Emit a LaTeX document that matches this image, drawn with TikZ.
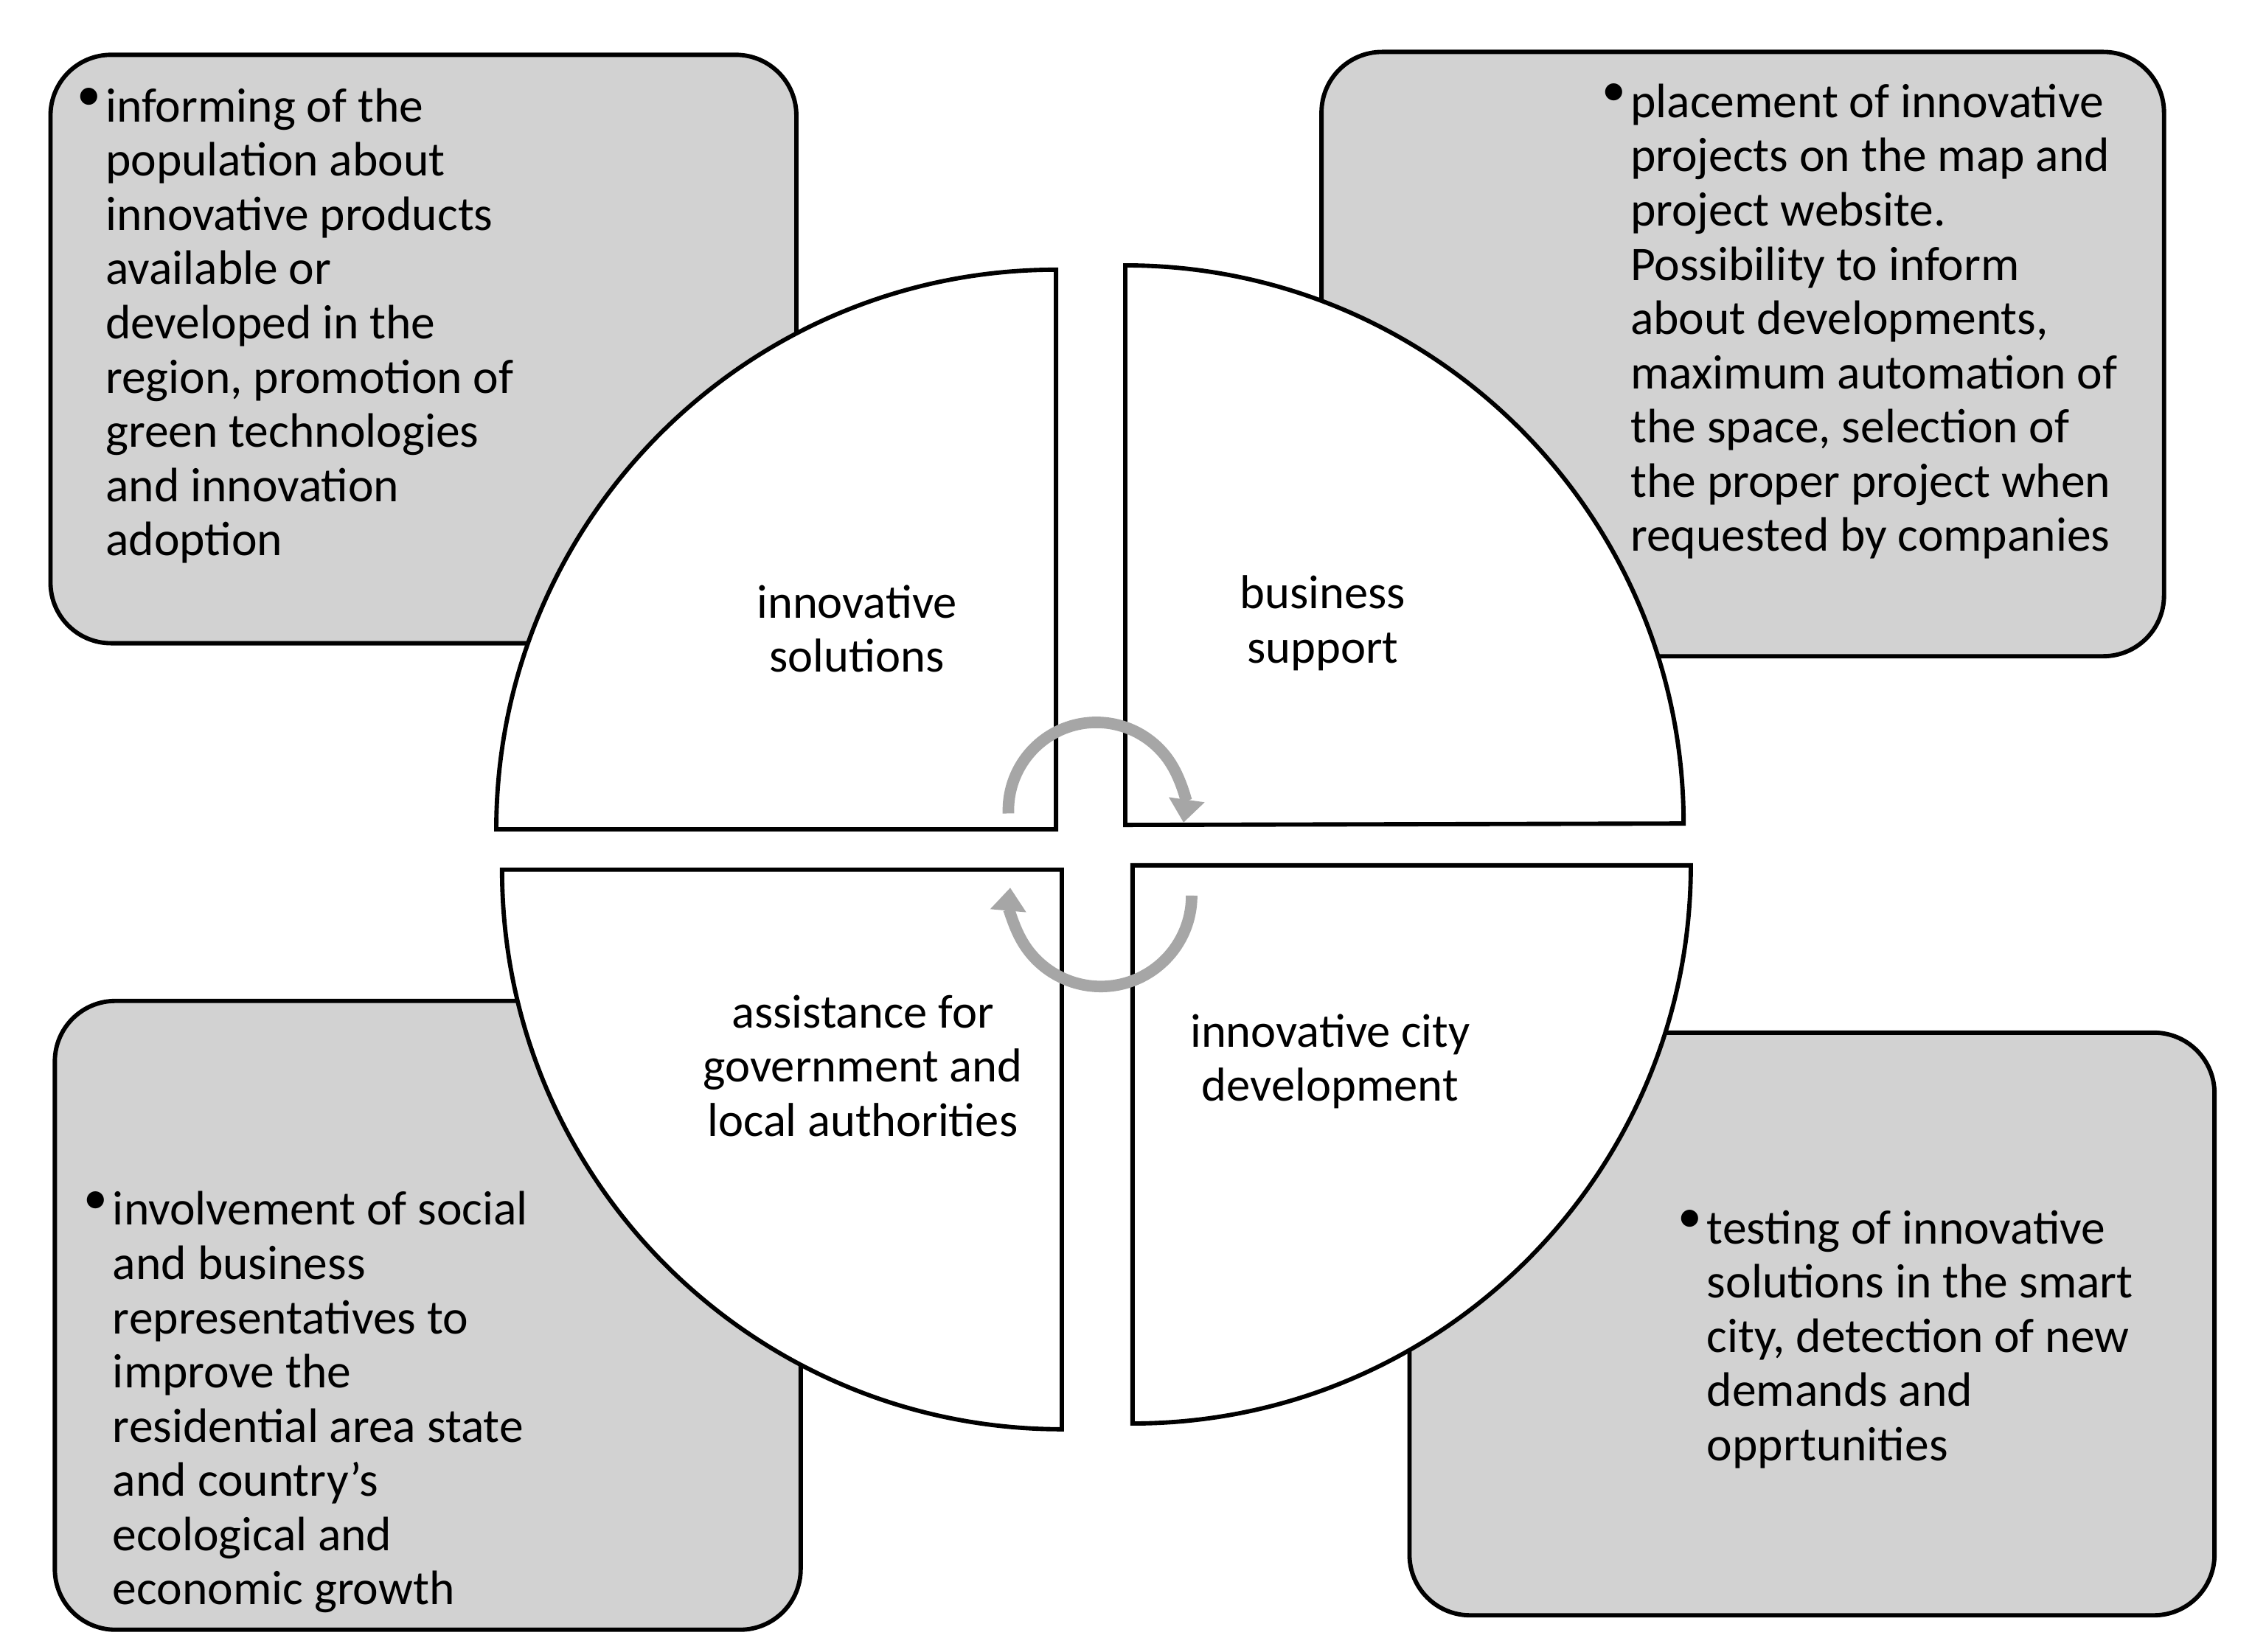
\documentclass[tikz,border=0pt]{standalone}
\usepackage{fontspec}
\setmainfont{Carlito}
\usetikzlibrary{arrows.meta}
\begin{document}
\begin{tikzpicture}[x=1pt,y=-1pt,
 box/.style={draw=black,line width=3pt,fill=gray!35,rounded corners=42pt},
 quad/.style={draw=black,line width=3pt,fill=white},
 lbl/.style={font=\fontsize{33}{37.5}\selectfont,align=center,inner sep=0},
 txt/.style={font=\fontsize{33.5}{37.6}\selectfont,align=left,anchor=north west,inner sep=0},
 cyc/.style={draw=gray!70,line width=8pt,-{Triangle[length=16pt,width=24pt]}}]
\useasboundingbox (0,0) rectangle (1561,1145);
\draw[box] (35,38) rectangle (552,446);
\draw[box] (916,36) rectangle (1500,455);
\draw[box] (38,694) rectangle (555,1130);
\draw[box] (977,716) rectangle (1535,1120);
\draw[quad] (732,575) -- (344,575) arc[start angle=180,end angle=270,radius=388] -- cycle;
\draw[quad] (780,572) -- (780,184) arc[start angle=270,end angle=360,radius=387] -- cycle;
\draw[quad] (736,603) -- (736,991) arc[start angle=90,end angle=180,radius=388] -- cycle;
\draw[quad] (785,600) -- (1172,600) arc[start angle=0,end angle=90,radius=387] -- cycle;
\coordinate (ta) at (699,564);
\coordinate (ba) at (826,621);
\draw[cyc] (ta) arc[start angle=-182,end angle=8,radius=61];
\draw[cyc] (ba) arc[start angle=0,end angle=185,radius=63];
\node[lbl] (n1) at (594,436) {innovative\\solutions};
\node[lbl] (n2) at (917,432) {business\\support};
\node[lbl] (n3) at (598,739) {assistance for\\government and\\local authorities};
\node[lbl] (n4) at (922,736) {innovative city\\development};
\node[txt] (b1) at (53,61) {•};
\node[txt] (t1) at (73,61) {informing of the\\population about\\innovative products\\available or\\developed in the\\region, promotion of\\green technologies\\and innovation\\adoption};
\node[txt] (b2) at (1110,58) {•};
\node[txt] (t2) at (1130,58) {placement of innovative\\projects on the map and\\project website.\\Possibility to inform\\about developments,\\maximum automation of\\the space, selection of\\the proper project when\\requested by companies};
\node[txt] (b3) at (58,826) {•};
\node[txt] (t3) at (78,826) {involvement of social\\and business\\representatives to\\improve the\\residential area state\\and country\char39 s\\ecological and\\economic growth};
\node[txt] (b4) at (1163,839) {•};
\node[txt] (t4) at (1183,839) {testing of innovative\\solutions in the smart\\city, detection of new\\demands and\\opprtunities};
\end{tikzpicture}
\end{document}
